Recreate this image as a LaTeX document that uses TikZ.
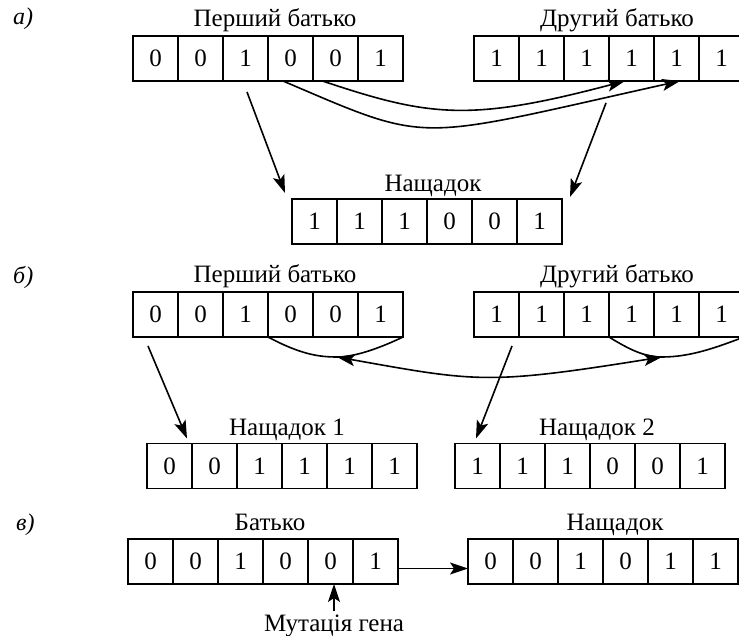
\documentclass[tikz,border=0pt]{standalone}
\usepackage{fontspec}
\setmainfont{Liberation Serif}
\usetikzlibrary{arrows.meta,calc}

\begin{document}
\begin{tikzpicture}[x=1pt,y=-1pt,
	gene/.style={draw=black, line width=1.7pt, minimum width=45pt, minimum height=45pt, inner sep=0pt, outer sep=0pt, font=\fontsize{25}{28}\selectfont},
	caption/.style={anchor=base, inner sep=0pt, font=\fontsize{25}{28}\selectfont},
	part/.style={anchor=base west, inner sep=0pt, font=\fontsize{24}{28}\selectfont\itshape},
	link/.style={draw=black, line width=1.6pt, -{Stealth[length=18pt,width=12pt,inset=4pt]}},
	twoway/.style={draw=black, line width=1.6pt, {Stealth[length=18pt,width=12pt,inset=4pt]}-{Stealth[length=18pt,width=12pt,inset=4pt]}},
	brace/.style={draw=black, line width=1.6pt}]
	\useasboundingbox (0,0) rectangle (739,636);

	\node[part] (parta) at (13,25) {а)};
	\node[caption] (la1) at (275,27) {Перший батько};
	\node[caption] (la2) at (617,27) {Другий батько};
	\node[caption] (la3) at (433,192) {Нащадок};
	\foreach \b [count=\i] in {0,0,1,0,0,1}
		\node[gene] (pa\i) at (110.5+45*\i,58.5) {\b};
	\foreach \b [count=\i] in {1,1,1,1,1,1}
		\node[gene] (qa\i) at (451.5+45*\i,58.5) {\b};
	\foreach \b [count=\i] in {1,1,1,0,0,1}
		\node[gene] (oa\i) at (269.5+45*\i,221.5) {\b};
	\draw[link] ([xshift=-13pt]pa5.south) .. controls (430,117) and (470,122) .. ([xshift=-6.5pt]qa4.south);
	\draw[link] ([xshift=-7.5pt]pa4.south) .. controls (433,145) and (410,141) .. ([xshift=3.5pt]qa5.south);
	\draw[link] ([xshift=1.5pt,yshift=-11pt]pa3.south) -- ([xshift=-7pt,yshift=6pt]oa1.north west);
	\draw[link] ([xshift=-3pt,yshift=-22pt]qa3.south east) -- ([xshift=8pt,yshift=2pt]oa6.north east);

	\node[part] (partb) at (13,284) {б)};
	\node[caption] (lb1) at (275,283) {Перший батько};
	\node[caption] (lb2) at (617,283) {Другий батько};
	\node[caption] (lb3) at (287,435) {Нащадок 1};
	\node[caption] (lb4) at (597,435) {Нащадок 2};
	\foreach \b [count=\i] in {0,0,1,0,0,1}
		\node[gene] (pb\i) at (110.5+45*\i,314.5) {\b};
	\foreach \b [count=\i] in {1,1,1,1,1,1}
		\node[gene] (qb\i) at (451.5+45*\i,314.5) {\b};
	\foreach \b [count=\i] in {0,0,1,1,1,1}
		\node[gene] (ob\i) at (124.5+45*\i,466) {\b};
	\foreach \b [count=\i] in {1,1,1,0,0,1}
		\node[gene] (rb\i) at (432.5+45*\i,466) {\b};
	\coordinate (bl) at (337,357);
	\coordinate (br) at (662,357);
	\draw[brace] (pb4.south west) .. controls (300,354) and (318,357) .. (bl) .. controls (355,357) and (380,348) .. (pb6.south east);
	\draw[brace] (qb4.south west) .. controls (630,350) and (645,357) .. (br) .. controls (690,357) and (715,348) .. (qb6.south east);
	\draw[twoway] (bl) .. controls (477,382) and (487,385) .. (br);
	\draw[link] ([xshift=-7.5pt,yshift=-9pt]pb1.south) -- ([xshift=-5pt,yshift=5pt]ob1.north east);
	\draw[link] ([xshift=-7pt,yshift=-9pt]qb1.south east) -- ([xshift=-1.5pt,yshift=5pt]rb1.north);

	\node[part] (partc) at (16,530) {в)};
	\node[caption] (lc1) at (270,530) {Батько};
	\node[caption] (lc2) at (615,530) {Нащадок};
	\node[caption] (mut) at (334,631) {Мутація гена};
	\foreach \b [count=\i] in {0,0,1,0,0,1}
		\node[gene] (pc\i) at (105.5+45*\i,561.5) {\b};
	\foreach \b [count=\i] in {0,0,1,0,1,1}
		\node[gene] (oc\i) at (445.5+45*\i,561.5) {\b};
	\draw[link] ([yshift=-7pt]pc6.east) -- ([yshift=-7pt]oc1.west);
	\draw[link, shorten <=3pt] (mut.north) -- (mut.north |- pc5.south);
\end{tikzpicture}
\end{document}
